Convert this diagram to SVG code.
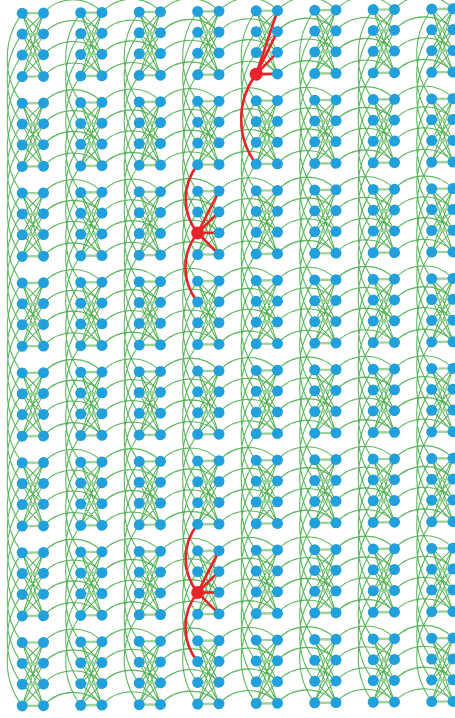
<svg xmlns="http://www.w3.org/2000/svg" xmlns:xlink="http://www.w3.org/1999/xlink" width="455" height="718" viewBox="0 0 455 718">
<style>
.x{stroke:#3fa83f;stroke-width:1;fill:none;stroke-opacity:0.9}
.hz{stroke:#9fd498;stroke-width:2.4;fill:none}
.arc{stroke:#4caf50;stroke-width:1.1;fill:none;stroke-opacity:0.9}
.nd{fill:#22a0dc}
.red{stroke:#e8232a;stroke-width:2.6;fill:none;stroke-linecap:round}
.rn{fill:#e8232a}
</style>
<defs>
<g id="k">
<path class="x" d="M0 0L21.3 20.8M0 0L21.3 41.7M0 0L21.3 63.3M0 20.8L21.3 0M0 20.8L21.3 41.7M0 20.8L21.3 63.3M0 41.7L21.3 0M0 41.7L21.3 20.8M0 41.7L21.3 63.3M0 63.3L21.3 0M0 63.3L21.3 20.8M0 63.3L21.3 41.7"/>
<path class="hz" d="M0 0H21.3M0 20.8H21.3M0 41.7H21.3M0 63.3H21.3"/>
</g>
<path id="h" class="arc" d="M21.3 0A39.4 39.4 0 0 1 79.8 0M21.3 20.8A39.4 39.4 0 0 1 79.8 20.8M21.3 41.7A39.4 39.4 0 0 1 79.8 41.7M21.3 63.3A39.4 39.4 0 0 1 79.8 63.3"/>
<path id="v" class="arc" d="M0 0A74.9 74.9 0 0 0 0 89.9M0 20.8A74.9 74.9 0 0 0 0 110.7M0 41.7A74.9 74.9 0 0 0 0 131.6M0 63.3A74.9 74.9 0 0 0 0 153.2"/>
<g id="n" class="nd">
<circle cx="0" cy="0" r="5.5"/><circle cx="0" cy="20.8" r="5.5"/><circle cx="0" cy="41.7" r="5.5"/><circle cx="0" cy="63.3" r="5.5"/>
<circle cx="21.3" cy="0" r="5.5"/><circle cx="21.3" cy="20.8" r="5.5"/><circle cx="21.3" cy="41.7" r="5.5"/><circle cx="21.3" cy="63.3" r="5.5"/>
</g>
<g id="er">
<use href="#k" x="22.2"/><use href="#k" x="80.7"/><use href="#k" x="139.2"/><use href="#k" x="197.7"/><use href="#k" x="256.2"/><use href="#k" x="314.7"/><use href="#k" x="373.2"/><use href="#k" x="431.7"/>
<use href="#h" x="22.2"/><use href="#h" x="80.7"/><use href="#h" x="139.2"/><use href="#h" x="197.7"/><use href="#h" x="256.2"/><use href="#h" x="314.7"/><use href="#h" x="373.2"/>
</g>
<g id="vr">
<use href="#v" x="22.2"/><use href="#v" x="80.7"/><use href="#v" x="139.2"/><use href="#v" x="197.7"/><use href="#v" x="256.2"/><use href="#v" x="314.7"/><use href="#v" x="373.2"/><use href="#v" x="431.7"/>
</g>
</defs>
<rect width="455" height="718" fill="#ffffff"/>
<g transform="matrix(1 -0.0105 0 1 0 0.233)">
<g id="connectors">
<use href="#vr" y="13.3"/><use href="#vr" y="103.2"/><use href="#vr" y="193.1"/><use href="#vr" y="283"/><use href="#vr" y="372.9"/><use href="#vr" y="462.8"/><use href="#vr" y="552.7"/>
<use href="#er" y="13.3"/><use href="#er" y="103.2"/><use href="#er" y="193.1"/><use href="#er" y="283"/><use href="#er" y="372.9"/><use href="#er" y="462.8"/><use href="#er" y="552.7"/><use href="#er" y="642.6"/>
<g id="highlight-edges">
<path class="red" d="M256.2 76.6L277.5 13.3M256.2 76.6L277.5 34.1M256.2 76.6L277.5 55M256.2 76.6L277.5 76.6"/>
<path class="red" d="M256.2 76.6A74.9 74.9 0 0 0 256.2 166.5"/>
<path class="red" d="M197.7 234.8L219 193.1M197.7 234.8L219 213.9M197.7 234.8L219 234.8M197.7 234.8L219 256.4"/>
<path class="red" d="M197.7 234.8A54.6 54.6 0 0 1 197.7 166.5M197.7 234.8A54.6 54.6 0 0 0 197.7 303.8"/>
<path class="red" d="M197.7 594.4L219 552.7M197.7 594.4L219 573.5M197.7 594.4L219 594.4M197.7 594.4L219 616"/>
<path class="red" d="M197.7 594.4A54.6 54.6 0 0 1 197.7 526M197.7 594.4A54.6 54.6 0 0 0 197.7 663.4"/>
</g>
</g>
<g id="nodes">
<g id="cell-r0-c0"><use href="#n" x="22.2" y="13.3"/></g><g id="cell-r0-c1"><use href="#n" x="80.7" y="13.3"/></g><g id="cell-r0-c2"><use href="#n" x="139.2" y="13.3"/></g><g id="cell-r0-c3"><use href="#n" x="197.7" y="13.3"/></g><g id="cell-r0-c4"><use href="#n" x="256.2" y="13.3"/></g><g id="cell-r0-c5"><use href="#n" x="314.7" y="13.3"/></g><g id="cell-r0-c6"><use href="#n" x="373.2" y="13.3"/></g><g id="cell-r0-c7"><use href="#n" x="431.7" y="13.3"/></g>
<g id="cell-r1-c0"><use href="#n" x="22.2" y="103.2"/></g><g id="cell-r1-c1"><use href="#n" x="80.7" y="103.2"/></g><g id="cell-r1-c2"><use href="#n" x="139.2" y="103.2"/></g><g id="cell-r1-c3"><use href="#n" x="197.7" y="103.2"/></g><g id="cell-r1-c4"><use href="#n" x="256.2" y="103.2"/></g><g id="cell-r1-c5"><use href="#n" x="314.7" y="103.2"/></g><g id="cell-r1-c6"><use href="#n" x="373.2" y="103.2"/></g><g id="cell-r1-c7"><use href="#n" x="431.7" y="103.2"/></g>
<g id="cell-r2-c0"><use href="#n" x="22.2" y="193.1"/></g><g id="cell-r2-c1"><use href="#n" x="80.7" y="193.1"/></g><g id="cell-r2-c2"><use href="#n" x="139.2" y="193.1"/></g><g id="cell-r2-c3"><use href="#n" x="197.7" y="193.1"/></g><g id="cell-r2-c4"><use href="#n" x="256.2" y="193.1"/></g><g id="cell-r2-c5"><use href="#n" x="314.7" y="193.1"/></g><g id="cell-r2-c6"><use href="#n" x="373.2" y="193.1"/></g><g id="cell-r2-c7"><use href="#n" x="431.7" y="193.1"/></g>
<g id="cell-r3-c0"><use href="#n" x="22.2" y="283"/></g><g id="cell-r3-c1"><use href="#n" x="80.7" y="283"/></g><g id="cell-r3-c2"><use href="#n" x="139.2" y="283"/></g><g id="cell-r3-c3"><use href="#n" x="197.7" y="283"/></g><g id="cell-r3-c4"><use href="#n" x="256.2" y="283"/></g><g id="cell-r3-c5"><use href="#n" x="314.7" y="283"/></g><g id="cell-r3-c6"><use href="#n" x="373.2" y="283"/></g><g id="cell-r3-c7"><use href="#n" x="431.7" y="283"/></g>
<g id="cell-r4-c0"><use href="#n" x="22.2" y="372.9"/></g><g id="cell-r4-c1"><use href="#n" x="80.7" y="372.9"/></g><g id="cell-r4-c2"><use href="#n" x="139.2" y="372.9"/></g><g id="cell-r4-c3"><use href="#n" x="197.7" y="372.9"/></g><g id="cell-r4-c4"><use href="#n" x="256.2" y="372.9"/></g><g id="cell-r4-c5"><use href="#n" x="314.7" y="372.9"/></g><g id="cell-r4-c6"><use href="#n" x="373.2" y="372.9"/></g><g id="cell-r4-c7"><use href="#n" x="431.7" y="372.9"/></g>
<g id="cell-r5-c0"><use href="#n" x="22.2" y="462.8"/></g><g id="cell-r5-c1"><use href="#n" x="80.7" y="462.8"/></g><g id="cell-r5-c2"><use href="#n" x="139.2" y="462.8"/></g><g id="cell-r5-c3"><use href="#n" x="197.7" y="462.8"/></g><g id="cell-r5-c4"><use href="#n" x="256.2" y="462.8"/></g><g id="cell-r5-c5"><use href="#n" x="314.7" y="462.8"/></g><g id="cell-r5-c6"><use href="#n" x="373.2" y="462.8"/></g><g id="cell-r5-c7"><use href="#n" x="431.7" y="462.8"/></g>
<g id="cell-r6-c0"><use href="#n" x="22.2" y="552.7"/></g><g id="cell-r6-c1"><use href="#n" x="80.7" y="552.7"/></g><g id="cell-r6-c2"><use href="#n" x="139.2" y="552.7"/></g><g id="cell-r6-c3"><use href="#n" x="197.7" y="552.7"/></g><g id="cell-r6-c4"><use href="#n" x="256.2" y="552.7"/></g><g id="cell-r6-c5"><use href="#n" x="314.7" y="552.7"/></g><g id="cell-r6-c6"><use href="#n" x="373.2" y="552.7"/></g><g id="cell-r6-c7"><use href="#n" x="431.7" y="552.7"/></g>
<g id="cell-r7-c0"><use href="#n" x="22.2" y="642.6"/></g><g id="cell-r7-c1"><use href="#n" x="80.7" y="642.6"/></g><g id="cell-r7-c2"><use href="#n" x="139.2" y="642.6"/></g><g id="cell-r7-c3"><use href="#n" x="197.7" y="642.6"/></g><g id="cell-r7-c4"><use href="#n" x="256.2" y="642.6"/></g><g id="cell-r7-c5"><use href="#n" x="314.7" y="642.6"/></g><g id="cell-r7-c6"><use href="#n" x="373.2" y="642.6"/></g><g id="cell-r7-c7"><use href="#n" x="431.7" y="642.6"/></g>
</g>
<g id="highlight-nodes">
<circle class="rn" cx="256.2" cy="76.6" r="6.5"/>
<circle class="rn" cx="197.7" cy="234.8" r="6.5"/>
<circle class="rn" cx="197.7" cy="594.4" r="6.5"/>
</g>
</g>
</svg>
